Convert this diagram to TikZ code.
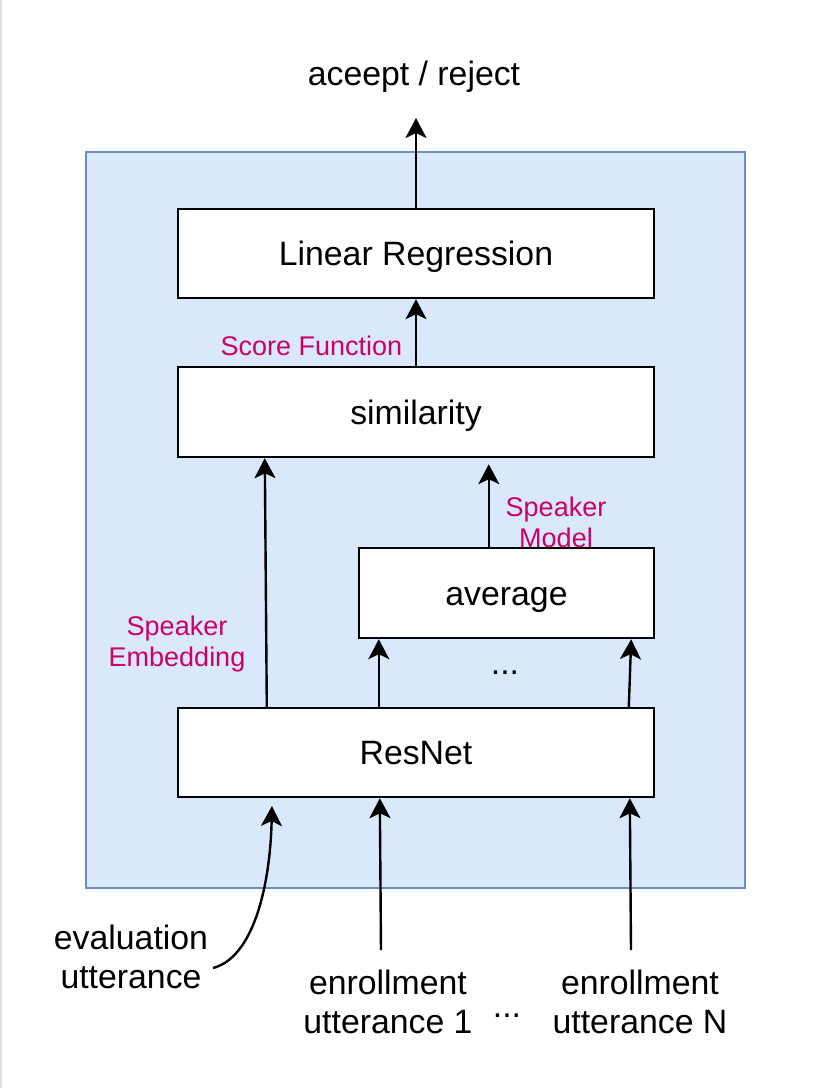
\documentclass[tikz,border=0pt]{standalone}
\usepackage{fontspec}
\setmainfont{Liberation Sans}
\usetikzlibrary{arrows.meta,calc}
\definecolor{panelfill}{HTML}{DAE8FC}
\definecolor{panelline}{HTML}{6C8EBF}
\definecolor{pinklab}{HTML}{CC0066}
\tikzset{
  box/.style={draw=black, fill=white, line width=2.4pt, minimum width=476pt, minimum height=89pt, inner sep=0pt, text height=27pt, text depth=3pt, font=\fontsize{33.8}{39}\selectfont},
  arr/.style={line width=2.4pt, -{Stealth[length=20pt,width=21pt,inset=5pt]}},
  maintext/.style={inner sep=0pt, align=center, font=\fontsize{33.8}{39}\selectfont},
  pinktext/.style={inner sep=0pt, align=center, text=pinklab, font=\fontsize{27}{31}\selectfont},
}
\begin{document}
\begin{tikzpicture}[x=1pt,y=-1pt]
\useasboundingbox (0,0) rectangle (830,1088);
\fill[white] (0,0) rectangle (830,1088);
\draw[gray!25, line width=1.5pt] (1,0) -- (1,1088);
\draw[fill=panelfill, draw=panelline, line width=2pt] (86,152) rectangle (745,888);

\node[box] (lr) at (416,253.5) {Linear Regression};
\node[box, minimum height=90pt] (sim) at (416,412) {similarity};
\node[box, minimum width=295pt, minimum height=90pt] (avg) at (506.5,593) {average};
\node[box] (res) at (416,752.5) {ResNet};

\node[maintext] (out) at (414,77) {aceept / reject};
\coordinate (outtip) at (416,118);
\draw[arr] (lr.north) -- (outtip);
\draw[arr] (sim.north) -- (lr.south);
\node[pinktext] (score) at (311.5,346) {Score Function};

\draw[arr] ([xshift=90pt]res.north west) -- ([xshift=88pt]sim.south west);
\node[pinktext] (emb) at (177,644) {Speaker\\Embedding};

\draw[arr] ([xshift=131pt]avg.north west) -- ([xshift=312pt,yshift=-6pt]sim.south west);
\node[pinktext] (model) at (556,522) {Speaker\\Model};

\draw[arr] ([xshift=202pt]res.north west) -- ([xshift=21pt]avg.south west);
\draw[arr] ([xshift=452pt]res.north west) -- ([xshift=-24pt]avg.south east);
\node[maintext] (dots1) at (505,673) {...};

\node[maintext] (eval) at (131,957) {evaluation\\utterance};
\node[maintext] (enr1) at (388,1002) {enrollment\\utterance 1};
\node[maintext] (dots2) at (507,1016) {...};
\node[maintext] (enrN) at (640,1002) {enrollment\\utterance N};

\coordinate (evstart) at (213,968);
\coordinate (evtip) at (272,806);
\coordinate (e1start) at (381,950);
\coordinate (eNstart) at (631,950);
\draw[arr] (evstart) .. controls (252,958) and (270,890) .. (evtip);
\draw[arr] (e1start) -- ([xshift=203pt]res.south west);
\draw[arr] (eNstart) -- ([xshift=453pt]res.south west);
\end{tikzpicture}
\end{document}
